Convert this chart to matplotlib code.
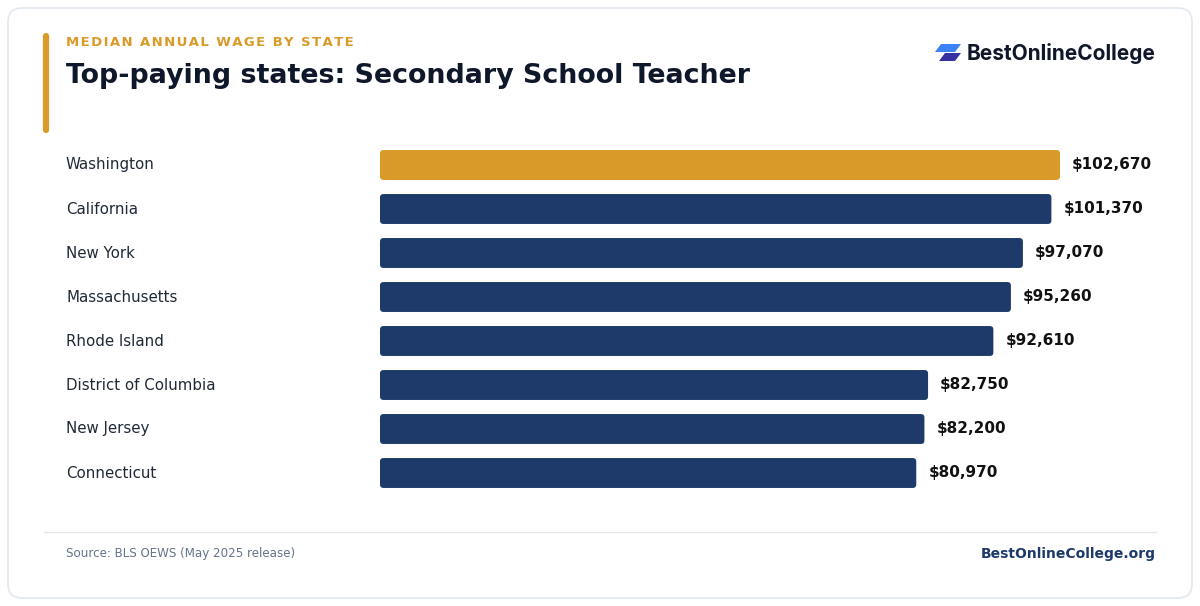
import matplotlib.pyplot as plt
from matplotlib.patches import FancyBboxPatch, Polygon

states = ["Washington", "California", "New York", "Massachusetts", "Rhode Island",
          "District of Columbia", "New Jersey", "Connecticut"]
wages = [102670, 101370, 97070, 95260, 92610, 82750, 82200, 80970]
highlight = "Washington"

W, H = 1200, 606
GOLD = "#d99a28"
NAVY = "#1e3a6b"
INK = "#0f172a"
DV = "DejaVu Sans"

fig = plt.figure(figsize=(W / 100, H / 100), dpi=100)
fig.patch.set_facecolor("white")

# overlay in pixel coordinates for the card, header and footer
bg = fig.add_axes([0, 0, 1, 1])
bg.set_xlim(0, W)
bg.set_ylim(H, 0)
bg.axis("off")
bg.add_patch(FancyBboxPatch((8, 8), 1184, 590, boxstyle="round,pad=0,rounding_size=14",
                            fc="white", ec="#e2e8f0", lw=1.2))
bg.plot([46, 46], [36, 130], color=GOLD, lw=4.5, solid_capstyle="round")
bg.text(66, 42, "\u200a".join("MEDIAN ANNUAL WAGE BY STATE"), family=DV, color=GOLD,
        fontsize=9.5, fontweight="bold", va="center", ha="left")
bg.text(66, 76, "Top-paying states: Secondary School Teacher", family=DV, color=INK,
        fontsize=19.4, fontweight="bold", va="center", ha="left")

# logo
bg.add_patch(Polygon([(941, 44), (961, 44), (955, 52), (935, 52)], closed=True, fc="#3b82f6", ec="none"))
bg.add_patch(Polygon([(945, 53), (961, 53), (955, 61), (939, 61)], closed=True, fc="#3730a3", ec="none"))
bg.text(1156, 53, "BestOnlineCollege", family="Inter", fontweight="bold", fontsize=15,
        color=INK, ha="right", va="center")

# footer
bg.plot([44, 1156], [532, 532], color="#e5e7eb", lw=1)
bg.text(66, 554, "Source: BLS OEWS (May 2025 release)", family=DV, color="#64748b",
        fontsize=8.6, ha="left", va="center")
bg.text(1156, 554, "BestOnlineCollege.org", family=DV, color=NAVY, fontsize=10,
        fontweight="bold", ha="right", va="center")

# bar chart axes: x 380..1160 px, rows 143..495 px
ax = fig.add_axes([380 / W, 1 - 495 / H, 780 / W, 352 / H])
ax.axis("off")
xmax = 117770
ax.set_xlim(0, xmax)
ax.set_ylim(len(states) - 0.5, -0.5)

bh = 0.68
r_px = 3.5
px_x = xmax / 780
px_y = 1 / 44
for i, (s, v) in enumerate(zip(states, wages)):
    c = GOLD if s == highlight else NAVY
    ax.add_patch(FancyBboxPatch((0, i - bh / 2), v, bh,
                                boxstyle=f"round,pad=0,rounding_size={r_px * px_x}",
                                mutation_aspect=px_y / px_x, fc=c, ec="none"))
    ax.text(v + 12 * px_x, i, f"${v:,}", family=DV, fontsize=11, fontweight="bold",
            color="#111111", va="center", ha="left")
    bg.text(66, 165 + 44 * i, s, family=DV, fontsize=10.8, color="#1f2937",
            va="center", ha="left")

fig.savefig("out.png", dpi=100)
